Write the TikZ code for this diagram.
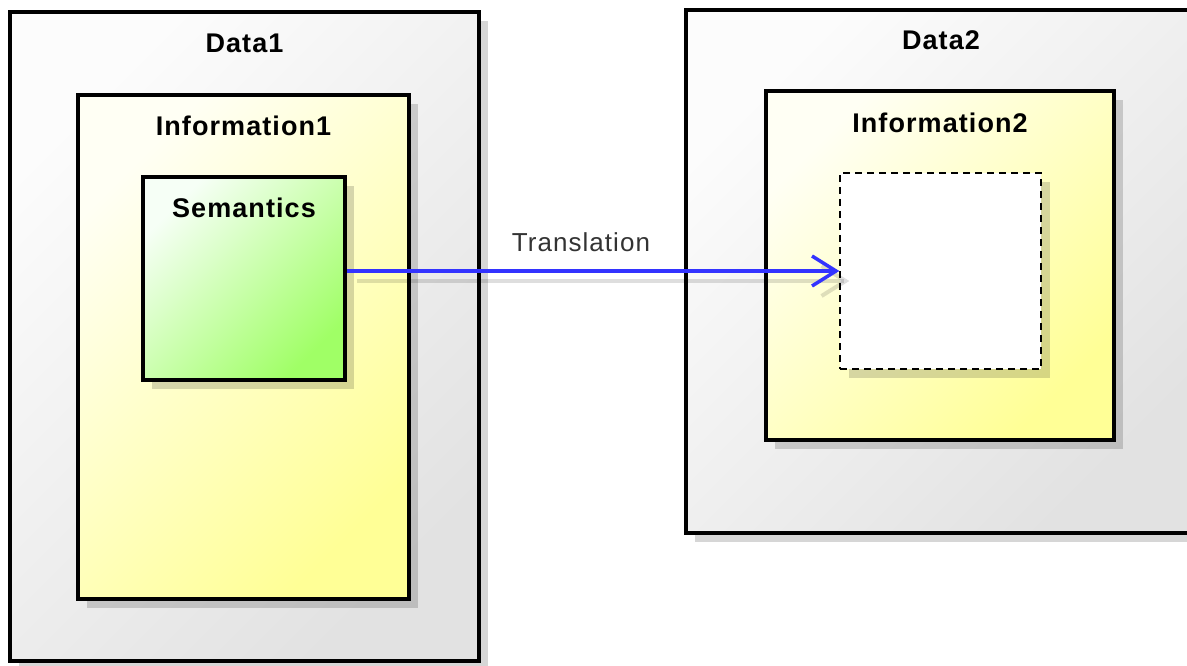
\documentclass[tikz,border=0pt]{standalone}
\usepackage{fontspec}
\setmainfont{Liberation Sans}
\newfontfamily\spacedfont[LetterSpace=4]{Liberation Sans}
\usetikzlibrary{arrows.meta,shadows}
\definecolor{datatl}{HTML}{FCFCFC}
\definecolor{databr}{HTML}{E2E2E2}
\definecolor{infotl}{HTML}{FFFFF4}
\definecolor{infobr}{HTML}{FFFF96}
\definecolor{semtl}{HTML}{F6FFF6}
\definecolor{sembr}{HTML}{A0FF66}
\definecolor{arrowblue}{HTML}{3333FF}
\definecolor{labelgray}{HTML}{333333}
\tikzset{
  shadowed/.style={drop shadow={shadow xshift=9pt, shadow yshift=-9pt, fill=black, opacity=0.16}},
  databox/.style={draw=black, line width=4pt, shadowed, top color=datatl, bottom color=databr, shading angle=45, inner sep=0pt},
  infobox/.style={draw=black, line width=3.6pt, shadowed, top color=infotl, bottom color=infobr, shading angle=45, inner sep=0pt},
  sembox/.style={draw=black, line width=3.6pt, shadowed, top color=semtl, bottom color=sembr, shading angle=45, inner sep=0pt},
  emptybox/.style={draw=black, line width=1.4pt, dash pattern=on 7pt off 5pt, fill=white, shadowed, inner sep=0pt},
  title/.style={font=\spacedfont\fontsize{27}{32}\selectfont\bfseries, text=black, inner sep=0pt, anchor=center},
  conn/.style={draw=arrowblue, line width=3.5pt, -{Straight Barb[length=24pt,width=30pt,line width=3.5pt]}},
  connshadow/.style={draw=black, opacity=0.13, line width=4pt, -{Straight Barb[length=24pt,width=30pt,line width=4pt]}},
}
\begin{document}
\begin{tikzpicture}[x=1pt,y=-1pt]
\useasboundingbox (0,0) rectangle (1187,666);
% Data1
\node[databox, minimum width=469pt, minimum height=649pt] (d1) at (244.5,336.5) {};
\node[title] (d1t) at ([yshift=-33pt]d1.north) {Data1};
\node[infobox, minimum width=331pt, minimum height=504pt] (i1) at (243.5,347) {};
\node[title] (i1t) at ([yshift=-33pt]i1.north) {Information1};
\node[sembox, minimum width=202pt, minimum height=203pt] (s1) at (244,278.5) {};
\node[title] (s1t) at ([yshift=-33pt]s1.north) {Semantics};
% Data2
\node[databox, minimum width=510pt, minimum height=523pt] (d2) at (941,271.5) {};
\node[title] (d2t) at ([yshift=-32pt]d2.north) {Data2};
\node[infobox, minimum width=348pt, minimum height=349pt] (i2) at (940,265.5) {};
\node[title] (i2t) at ([yshift=-34pt]i2.north) {Information2};
\node[emptybox, minimum width=201pt, minimum height=196pt] (e2) at (940.5,271) {};
% connector
\coordinate (cs) at (s1.east |- e2.west);
\draw[connshadow] ([shift={(10pt,-10pt)}]cs) -- ([shift={(10pt,-10pt)}]e2.west);
\draw[conn] (cs) -- (e2.west);
\node[font=\spacedfont\fontsize{26}{30}\selectfont, text=labelgray, inner sep=0pt] (lbl) at (581,242) {Translation};
\end{tikzpicture}
\end{document}
